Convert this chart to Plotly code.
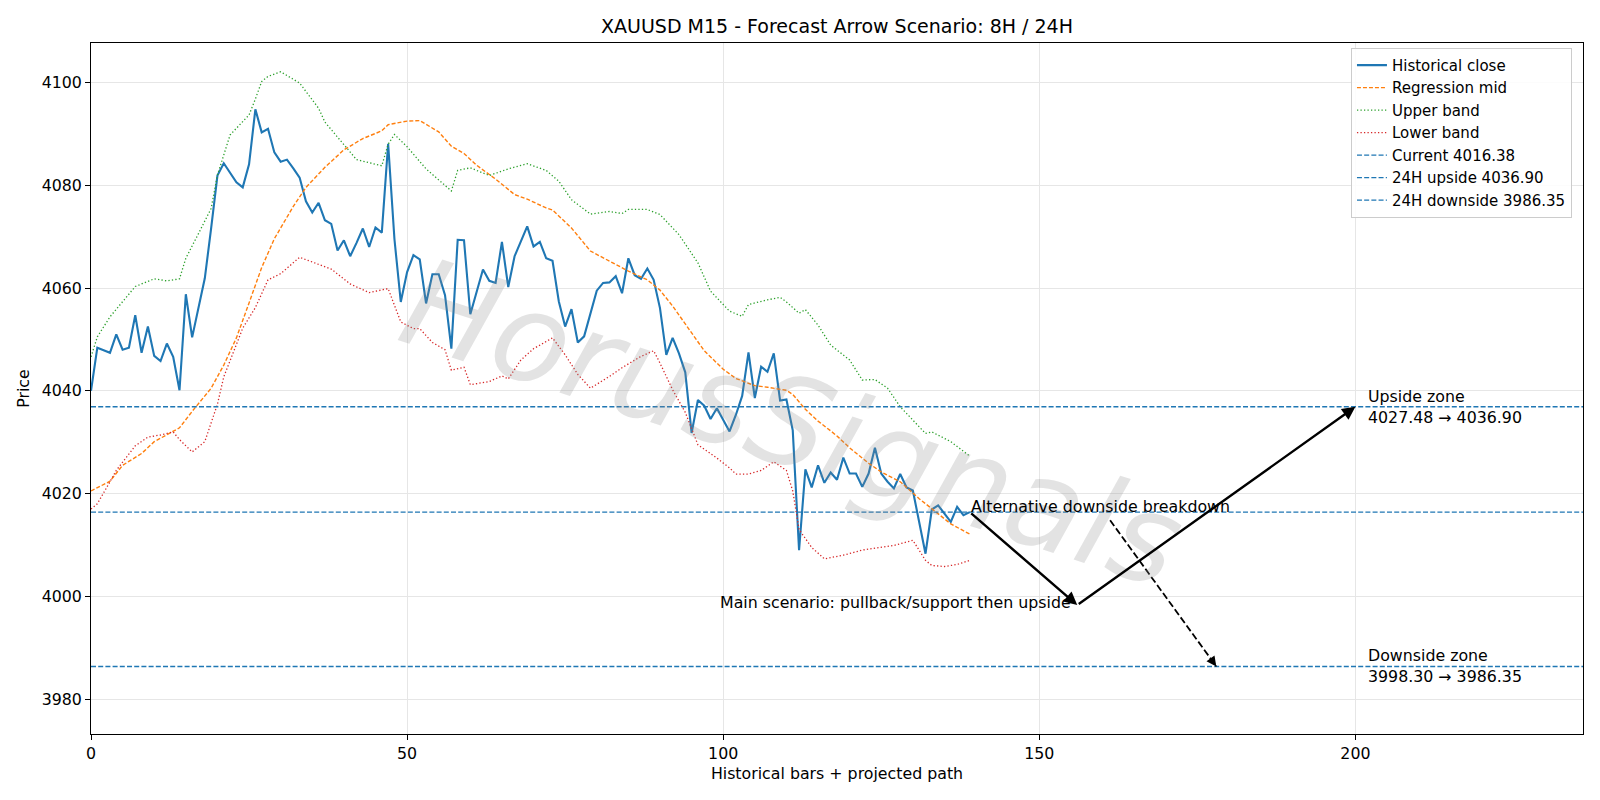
import plotly.graph_objects as go

# ---------------- data ----------------
close = [
    4040.0, 4048.4, 4047.9, 4047.4, 4051.0, 4048.0, 4048.4, 4054.7, 4047.4, 4052.5,
    4046.8, 4045.8, 4049.2, 4046.6, 4040.1, 4058.8, 4050.4, 4056.4, 4061.9, 4071.6,
    4081.9, 4084.3, 4082.5, 4080.6, 4079.6, 4084.1, 4094.8, 4090.3, 4091.0, 4086.4,
    4084.6, 4085.0, 4083.3, 4081.5, 4076.9, 4074.7, 4076.6, 4073.2, 4072.5, 4067.3,
    4069.3, 4066.2, 4068.8, 4071.6, 4068.0, 4071.8, 4070.8, 4088.1, 4069.5, 4057.3,
    4063.1, 4066.4, 4065.6, 4057.0, 4062.7, 4062.7, 4058.6, 4048.2, 4069.4, 4069.3,
    4054.9, 4059.2, 4063.6, 4061.4, 4061.0, 4069.0, 4060.2, 4066.2, 4069.0, 4072.0,
    4068.1, 4069.0, 4065.8, 4065.3, 4057.4, 4052.5, 4055.9, 4049.4, 4050.6, 4055.1,
    4059.5, 4061.0, 4061.1, 4062.3, 4059.0, 4065.8, 4062.5, 4061.8, 4063.8, 4061.6,
    4056.1, 4047.0, 4050.3, 4047.3, 4043.6, 4031.8, 4038.2, 4037.1, 4034.5, 4036.6,
    4034.4, 4032.1, 4035.3, 4039.0, 4047.5, 4038.6, 4044.7, 4043.7, 4047.3, 4038.1,
    4038.3, 4032.3, 4009.0, 4024.7, 4021.2, 4025.5, 4022.1, 4024.1, 4022.7, 4027.0,
    4023.9, 4023.9, 4021.3, 4023.9, 4028.9, 4023.9, 4022.3, 4021.0, 4023.8, 4021.2,
    4020.6, 4014.5, 4008.3, 4016.9, 4017.7, 4016.1, 4014.5, 4017.4, 4015.8, 4016.38,
]
bars = list(range(len(close)))

upper_x = [0, 1, 3, 5, 7, 10, 12, 14, 15, 17, 19, 20, 22, 24, 25, 26, 27, 28, 30, 33,
           36, 37, 40, 42, 46, 47, 48, 50, 53, 57, 58, 60, 63, 66, 69, 72, 74, 76, 79, 82,
           84, 85, 88, 90, 93, 96, 98, 101, 103, 104, 107, 109, 110, 112, 113, 115, 117, 120, 122, 124,
           126, 128, 132, 133, 136, 139]
upper_y = [4046.6, 4050.5, 4054.4, 4057.3, 4060.3, 4061.8, 4061.4, 4061.8, 4065.8, 4070.6,
           4075.5, 4082.0, 4089.8, 4092.4, 4093.7, 4096.8, 4100.2, 4101.2, 4102.1, 4099.9,
           4095.0, 4092.3, 4087.8, 4085.0, 4083.8, 4088.0, 4089.9, 4087.5, 4083.2, 4078.9,
           4082.9, 4083.4, 4081.9, 4083.2, 4084.2, 4082.9, 4080.8, 4077.2, 4074.4, 4074.9,
           4074.5, 4075.3, 4075.3, 4074.3, 4070.4, 4064.9, 4059.4, 4055.5, 4054.5, 4056.8,
           4057.7, 4058.2, 4057.3, 4055.1, 4055.8, 4052.8, 4048.9, 4046.0, 4042.1, 4042.2,
           4040.5, 4036.9, 4031.7, 4032.0, 4030.1, 4027.3]

mid_x = [0, 3, 5, 8, 10, 14, 16, 19, 21, 23, 25, 27, 29, 32, 34, 36, 37, 40, 43, 46,
         47, 50, 52, 55, 57, 59, 61, 64, 67, 69, 72, 73, 76, 79, 82, 85, 88, 90, 92, 94,
         97, 100, 102, 105, 107, 110, 111, 113, 115, 117, 118, 120, 123, 125, 128, 131, 133, 136, 139]
mid_y = [4020.5, 4022.4, 4025.5, 4027.8, 4030.1, 4032.8, 4036.0, 4040.5, 4045.0, 4050.3,
         4057.1, 4064.0, 4069.6, 4075.9, 4079.6, 4082.1, 4083.5, 4086.9, 4089.1, 4090.6,
         4091.8, 4092.5, 4092.6, 4090.4, 4087.6, 4086.2, 4083.9, 4081.2, 4078.2, 4077.3,
         4075.6, 4075.2, 4071.7, 4067.2, 4065.3, 4063.3, 4061.6, 4059.6, 4056.5, 4053.0,
         4047.8, 4044.2, 4042.4, 4041.0, 4040.7, 4040.1, 4039.3, 4036.4, 4034.1, 4032.2,
         4031.2, 4028.9, 4025.9, 4024.2, 4022.3, 4019.0, 4017.0, 4014.1, 4012.1]

lower_x = [0, 1, 3, 4, 7, 9, 11, 13, 14, 16, 18, 20, 21, 24, 26, 28, 30, 33, 36, 38,
           41, 44, 47, 49, 51, 52, 54, 56, 57, 59, 60, 63, 65, 66, 68, 70, 73, 75, 77, 79,
           82, 84, 87, 89, 90, 92, 94, 96, 99, 101, 102, 104, 106, 108, 110, 111, 112, 114, 116, 119,
           122, 124, 127, 130, 131, 132, 133, 135, 137, 139]
lower_y = [4017.0, 4018.0, 4022.3, 4024.5, 4029.3, 4031.0, 4031.4, 4032.0, 4030.5, 4028.1,
           4030.1, 4037.4, 4042.7, 4052.2, 4056.2, 4061.6, 4062.8, 4066.0, 4064.6, 4063.7,
           4060.8, 4059.1, 4059.9, 4053.4, 4052.1, 4052.1, 4049.4, 4048.0, 4044.0, 4044.6,
           4041.2, 4041.8, 4042.9, 4042.3, 4046.0, 4048.2, 4050.3, 4047.0, 4043.2, 4040.5,
           4042.8, 4044.5, 4046.7, 4047.8, 4045.4, 4040.2, 4035.8, 4029.5, 4026.9, 4025.0,
           4023.8, 4023.8, 4024.5, 4026.2, 4024.5, 4020.5, 4013.0, 4009.5, 4007.3, 4008.0,
           4009.0, 4009.3, 4009.9, 4010.9, 4009.0, 4007.0, 4006.0, 4005.8, 4006.2, 4007.0]

current = 4016.38
up_target = 4036.90
up_zone_low = 4027.48
down_target = 3986.35
down_zone_high = 3998.30

# scenario path: now -> pullback -> upside target
scenario_x = [139, 156, 200]
scenario_y = [current, down_zone_high, up_target]
alt_x = [161.2, 178]
alt_y = [4014.8, down_target]
zone_label_x = 202

x_range = [0, 236]
y_range = [3973.2, 4107.7]
x_ticks = [0, 50, 100, 150, 200]
y_ticks = [3980, 4000, 4020, 4040, 4060, 4080, 4100]

# ---------------- figure ----------------
FONT = "DejaVu Sans, Liberation Sans, sans-serif"
FS = 15.8
BLUE = "#1f77b4"
W, H = 1600, 800
M = dict(l=91, r=17, t=43, b=66)
pw = W - M["l"] - M["r"]
ph = H - M["t"] - M["b"]
sx = pw / (x_range[1] - x_range[0])
sy = ph / (y_range[1] - y_range[0])

fig = go.Figure()
fig.add_trace(go.Scatter(x=bars, y=close, mode="lines", name="Historical close",
                         line=dict(color=BLUE, width=2.1)))
fig.add_trace(go.Scatter(x=mid_x, y=mid_y, mode="lines", name="Regression mid",
                         line=dict(color="#ff7f0e", width=1.4, dash="4px,2px")))
fig.add_trace(go.Scatter(x=upper_x, y=upper_y, mode="lines", name="Upper band",
                         line=dict(color="#2ca02c", width=1.3, dash="1.3px,2.2px")))
fig.add_trace(go.Scatter(x=lower_x, y=lower_y, mode="lines", name="Lower band",
                         line=dict(color="#d62728", width=1.3, dash="1.3px,2.2px")))
for val, nm in [(current, f"Current {current:.2f}"),
                (up_target, f"24H upside {up_target:.2f}"),
                (down_target, f"24H downside {down_target:.2f}")]:
    fig.add_trace(go.Scatter(x=x_range, y=[val, val], mode="lines", name=nm,
                             line=dict(color=BLUE, width=1.4, dash="5px,2.2px")))

# alternative dashed path line
fig.add_trace(go.Scatter(x=alt_x, y=alt_y, mode="lines", showlegend=False, hoverinfo="skip",
                         line=dict(color="black", width=1.8, dash="7px,3px")))

ann = []
# watermark
ann.append(dict(text="HorusSignals", x=0.47, y=0.45, xref="paper", yref="paper",
                showarrow=False, textangle=18,
                font=dict(family=FONT, size=124, color="rgba(140,140,140,0.24)", style="italic")))
# main scenario arrows
for i in range(len(scenario_x) - 1):
    ann.append(dict(x=scenario_x[i + 1], y=scenario_y[i + 1], ax=scenario_x[i], ay=scenario_y[i],
                    xref="x", yref="y", axref="x", ayref="y", text="", showarrow=True,
                    arrowhead=2, arrowsize=1.1, arrowwidth=2.4, arrowcolor="black",
                    standoff=0, startstandoff=0))
# alternative arrow head
dxp = (alt_x[1] - alt_x[0]) * sx
dyp = (alt_y[0] - alt_y[1]) * sy
L = (dxp ** 2 + dyp ** 2) ** 0.5
ann.append(dict(x=alt_x[1], y=alt_y[1], ax=-dxp / L * 12, ay=-dyp / L * 12,
                xref="x", yref="y", text="", showarrow=True,
                arrowhead=2, arrowsize=1.1, arrowwidth=1.8, arrowcolor="black", standoff=0))
# texts
ann.append(dict(x=scenario_x[0], y=current, xref="x", yref="y", text="Alternative downside breakdown",
                showarrow=False, xanchor="left", yanchor="middle", yshift=6, xshift=-1,
                font=dict(family=FONT, size=FS, color="black")))
ann.append(dict(x=scenario_x[1], y=down_zone_high, xref="x", yref="y",
                text="Main scenario: pullback/support then upside",
                showarrow=False, xanchor="right", yanchor="middle", yshift=3, xshift=-4,
                font=dict(family=FONT, size=FS, color="black")))
ann.append(dict(x=zone_label_x, y=up_target, xref="x", yref="y",
                text=f"Upside zone<br>{up_zone_low:.2f} → {up_target:.2f}",
                showarrow=False, xanchor="left", yanchor="middle", align="left", xshift=-2,
                font=dict(family=FONT, size=FS, color="black")))
ann.append(dict(x=zone_label_x, y=down_target, xref="x", yref="y",
                text=f"Downside zone<br>{down_zone_high:.2f} → {down_target:.2f}",
                showarrow=False, xanchor="left", yanchor="middle", align="left", xshift=-2,
                font=dict(family=FONT, size=FS, color="black")))

axis_common = dict(showline=True, linecolor="black", linewidth=1, mirror=True,
                   ticks="outside", ticklen=5, tickwidth=1, tickcolor="black",
                   showgrid=True, gridcolor="#e6e6e6", gridwidth=1, zeroline=False,
                   tickfont=dict(family=FONT, size=FS, color="black"))

fig.update_layout(
    width=W, height=H, margin=M,
    paper_bgcolor="white", plot_bgcolor="white",
    font=dict(family=FONT, size=FS, color="black"),
    title=dict(text="XAUUSD M15 - Forecast Arrow Scenario: 8H / 24H",
               x=0.5 + (M["l"] - M["r"]) / 2 / W, xanchor="center",
               y=1 - 26 / H, yanchor="middle",
               font=dict(family=FONT, size=19, color="black")),
    xaxis=dict(range=x_range, tickvals=x_ticks, **axis_common,
               title=dict(text="Historical bars + projected path", standoff=5,
                          font=dict(family=FONT, size=FS))),
    yaxis=dict(range=y_range, tickvals=y_ticks, **axis_common,
               title=dict(text="Price", standoff=8, font=dict(family=FONT, size=FS))),
    legend=dict(x=0.9926, y=0.993, xanchor="right", yanchor="top",
                bgcolor="rgba(255,255,255,0.85)", bordercolor="#cccccc", borderwidth=1,
                font=dict(family=FONT, size=15), itemwidth=30, tracegroupgap=0),
    annotations=ann,
    showlegend=True,
)

fig.write_html("out.html")
